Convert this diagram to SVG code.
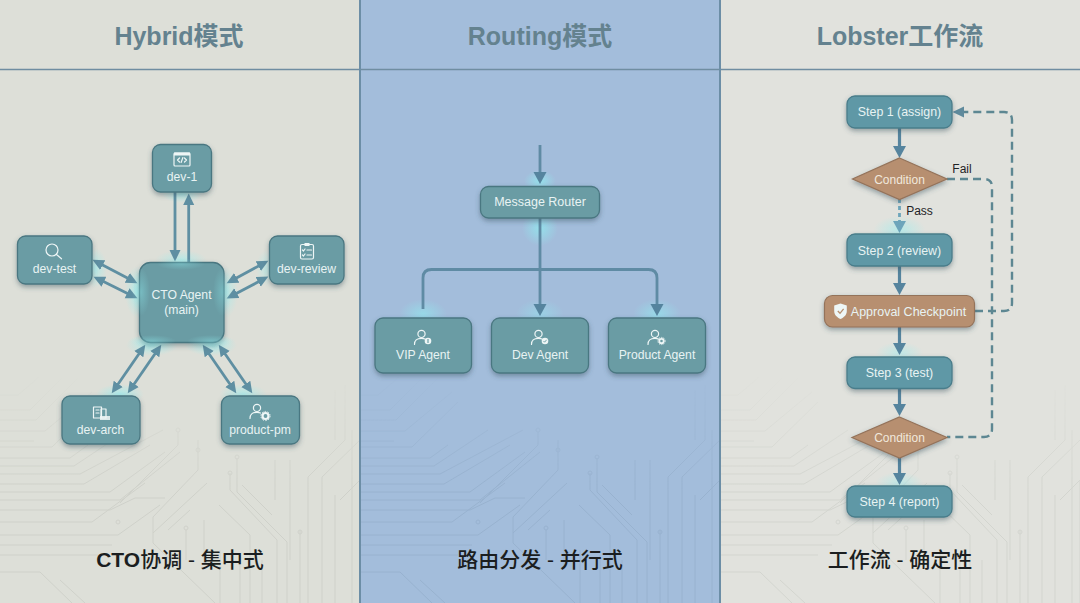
<svg xmlns="http://www.w3.org/2000/svg" xmlns:xlink="http://www.w3.org/1999/xlink" width="1080" height="603" viewBox="0 0 1080 603">
<style>
text{font-family:"Liberation Sans","Noto Sans CJK SC",sans-serif;text-anchor:middle;dominant-baseline:central}
.title{font-size:25px;font-weight:700;fill:#64828f}
.sub{font-size:21px;font-weight:700;fill:#1b1e20}
.sub tspan{font-weight:500}
.n{fill:#6a9ca4;stroke:#4a7781;stroke-width:1.3;filter:url(#sh)}
.s{fill:#5f98a6;stroke:#4a7d8b;stroke-width:1.3;filter:url(#sh)}
.b{fill:#b78f70;stroke:#94735a;stroke-width:1.2;filter:url(#sh)}
.t{font-size:12.2px;fill:#e8f3f3}
.t2{font-size:12.4px;fill:#e8f3f3}
.c{font-size:12px;fill:#f1e8dc}
.l{font-size:12px;fill:#1f2326}
.ic{fill:none;stroke:#eef6f6;stroke-width:1.2;stroke-linecap:round;stroke-linejoin:round}
.if{fill:#eef6f6;stroke:none}
.a1{fill:none;stroke:#5f8fa2;stroke-width:2.8;marker-start:url(#h1);marker-end:url(#h1)}
.a2{fill:none;stroke:#5f8fa2;stroke-width:2.8;marker-end:url(#h1)}
.a3{fill:none;stroke:#55849e;stroke-width:3.2;marker-end:url(#h4)}
.a4{fill:none;stroke:#5f8ba4;stroke-width:2.8;marker-end:url(#h4)}
.d{fill:none;stroke:#5d8792;stroke-width:2.4;stroke-dasharray:8 5}
.tr path{fill:none}
.tr circle{fill:none}
</style>
<defs>
<marker id="h1" markerUnits="userSpaceOnUse" markerWidth="13" markerHeight="13" refX="5" refY="6" orient="auto-start-reverse"><path d="M0 0.5L11.500 6L0 11.500z" fill="#5f8fa2"/></marker>
<marker id="h4" markerUnits="userSpaceOnUse" markerWidth="15" markerHeight="15" refX="5" refY="7" orient="auto"><path d="M0 0.500L12 7L0 13.500z" fill="#55849e"/></marker>
<marker id="h2" markerUnits="userSpaceOnUse" markerWidth="13" markerHeight="13" refX="5" refY="6" orient="auto"><path d="M0 0.500L11.500 6L0 11.500z" fill="#5f8a9c"/></marker>
<marker id="h3" markerUnits="userSpaceOnUse" markerWidth="15" markerHeight="15" refX="5" refY="7" orient="auto"><path d="M0 0.500L12 7L0 13.500z" fill="#6da5bb"/></marker>
<radialGradient id="glow"><stop offset="0" stop-color="#8ef0f2" stop-opacity=".9"/><stop offset="1" stop-color="#8ef0f2" stop-opacity="0"/></radialGradient>
<filter id="sh" x="-20%" y="-20%" width="140%" height="150%"><feDropShadow dx="0" dy="2.500" stdDeviation="2.500" flood-color="#33505a" flood-opacity=".45"/></filter>
<clipPath id="cp"><rect width="360" height="603"/></clipPath>
<linearGradient id="fade" gradientUnits="userSpaceOnUse" x1="0" y1="375" x2="0" y2="490"><stop offset="0" stop-color="#fff" stop-opacity="0"/><stop offset="1" stop-color="#fff"/></linearGradient>
<mask id="mk" maskUnits="userSpaceOnUse" x="0" y="0" width="360" height="603"><rect width="360" height="603" fill="url(#fade)"/></mask>
<g id="traces" class="tr" clip-path="url(#cp)" mask="url(#mk)">
<path d="M0 395H18L45 372M0 410H30L62 378M0 420H36L78 378M0 431H45L92 392M0 441H34M0 447H52L98 402"/>
<path d="M0 458H70L88 445M0 466H74L128 430M0 474H80L163 430M0 484H84L150 445M0 492H110L165 452"/>
<path d="M0 500H120L180 452M0 510H110L135 498H165M0 522H92L145 483M0 535H118L160 505M0 545H112M0 555H98M0 572H40L72 603M60 580L85 603"/>
<path d="M178 432V445L120 503M198 440V470L153 517V543L215 603M153 533L207 483M168 530L190 510M186 530V560M204 520V565M220 550V603"/>
<path d="M230 473V490L277 540V603M237 458V492L287 542V603M242 485L272 515M219 505L250 535V603M240 555V603M262 560V603"/>
<path d="M275 460V500M290 460V560M300 530V603M308 477V603M322 477V603M322 477L360 440M308 477L345 440V385M335 390V440M340 500L360 480V603M335 495V603M352 430V603"/>
<circle cx="178" cy="430" r="2"/><circle cx="198" cy="450" r="2"/><circle cx="118" cy="522" r="2"/><circle cx="186" cy="528" r="2"/><circle cx="237" cy="457" r="2"/><circle cx="230" cy="473" r="2"/><circle cx="300" cy="532" r="2"/>
</g>
<g id="person" class="ic"><circle cx="0" cy="-3.600" r="3.600"/><path d="M-7 7C-7 2-4 .8 0 .8C1.500 .8 2.600 1 3.500 1.500"/></g>
</defs>

<g id="background">
<rect width="360" height="603" fill="#dddfd8"/>
<rect x="360" width="360" height="603" fill="#a3bddb"/>
<rect x="720" width="360" height="603" fill="#e1e2dd"/>
<use href="#traces" stroke="#cfd1ca" stroke-width="1"/>
<use href="#traces" x="360" stroke="#98b2cf" stroke-width="1"/>
<use href="#traces" x="720" stroke="#d3d5cf" stroke-width="1"/>
<path d="M0 69.500H1080" stroke="#6f8da1" stroke-width="1.600"/>
<path d="M360 0V603M720 0V603" stroke="#6c8ea6" stroke-width="2"/>
</g>

<g id="headings">
<text class="title" x="179" y="36">Hybrid模式</text>
<text class="title" x="540" y="36">Routing模式</text>
<text class="title" x="900" y="36">Lobster工作流</text>
<text class="sub" x="180" y="559">CTO<tspan>协调 - 集中式</tspan></text>
<text class="sub" x="540" y="559"><tspan>路由分发 - 并行式</tspan></text>
<text class="sub" x="900" y="559"><tspan>工作流 - 确定性</tspan></text>
</g>

<g id="glows">
<ellipse cx="182" cy="194" rx="20" ry="9" fill="url(#glow)" opacity=".6"/>
<ellipse cx="95" cy="268" rx="12" ry="20" fill="url(#glow)" opacity=".6"/>
<ellipse cx="266" cy="268" rx="10" ry="18" fill="url(#glow)" opacity=".4"/>
<ellipse cx="120" cy="394" rx="24" ry="10" fill="url(#glow)" opacity=".7"/>
<ellipse cx="243" cy="394" rx="24" ry="10" fill="url(#glow)" opacity=".6"/>
<ellipse cx="181" cy="260" rx="26" ry="10" fill="url(#glow)" opacity=".55"/>
<ellipse cx="137" cy="292" rx="12" ry="26" fill="url(#glow)" opacity=".65"/>
<ellipse cx="226" cy="292" rx="12" ry="26" fill="url(#glow)" opacity=".55"/>
<ellipse cx="152" cy="345" rx="26" ry="11" fill="url(#glow)" opacity=".7"/>
<ellipse cx="211" cy="345" rx="26" ry="11" fill="url(#glow)" opacity=".7"/>
<ellipse cx="540" cy="181" rx="16" ry="11" fill="url(#glow)" opacity=".75"/>
<ellipse cx="540" cy="228" rx="18" ry="18" fill="url(#glow)" opacity=".75"/>
<ellipse cx="423" cy="314" rx="24" ry="15" fill="url(#glow)" opacity=".6"/>
<ellipse cx="540" cy="314" rx="24" ry="15" fill="url(#glow)" opacity=".45"/>
<ellipse cx="657" cy="314" rx="24" ry="15" fill="url(#glow)" opacity=".6"/>
<ellipse cx="899.500" cy="230" rx="26" ry="14" fill="url(#glow)" opacity=".55"/>
<ellipse cx="899.500" cy="353" rx="24" ry="11" fill="url(#glow)" opacity=".45"/>
<ellipse cx="899.500" cy="483" rx="24" ry="11" fill="url(#glow)" opacity=".45"/>
</g>

<g id="connectors">
<path class="a2" d="M175 192V255"/>
<path class="a2" d="M188.700 262V200"/>
<path class="a1" d="M98.300 262.800L131.700 280.200"/>
<path class="a1" d="M99.400 279.600L131.600 295.400"/>
<path class="a1" d="M262.700 263.800L232.300 280.200"/>
<path class="a1" d="M262.600 279.600L232.400 295.400"/>
<path class="a1" d="M141.600 350L115.400 388"/>
<path class="a1" d="M157.600 350L131.400 388"/>
<path class="a1" d="M206.400 350L232.600 388"/>
<path class="a1" d="M222.400 350L248.600 388"/>
<path class="a4" d="M540 145V177"/>
<path class="a4" d="M540 218V309"/>
<path class="a4" d="M423 309V278Q423 269.500 431.500 269.500H648.500Q657 269.500 657 278V309"/>
<path class="a3" d="M899.500 128V151"/>
<path d="M899.500 199V226" fill="none" stroke="#6da5bb" stroke-width="2.800" stroke-dasharray="4 3" marker-end="url(#h3)"/>
<path class="a3" d="M899.500 266V288"/>
<path class="a3" d="M899.500 327V348"/>
<path class="a3" d="M899.500 388V409"/>
<path class="a3" d="M899.500 458V478"/>
<path class="d" d="M947 179H984Q992 179 992 187V429Q992 437 984 437H947"/>
<path class="d" d="M975 311H1004Q1012 311 1012 303V120Q1012 112 1004 112H959" marker-end="url(#h2)"/>
</g>

<g id="dev-1"><rect class="n" x="152.500" y="144.500" width="59" height="47.500" rx="8"/>
<rect class="ic" x="174" y="153" width="16" height="13" rx="1"/><rect class="if" x="174" y="152.500" width="16" height="3"/><path class="ic" stroke-width=".9" d="M179.500 158L177.500 160L179.500 162M184.500 158L186.500 160L184.500 162M182.900 157.500L181.100 162.500"/>
<text class="t" x="182" y="177">dev-1</text></g>

<g id="dev-test"><rect class="n" x="17.500" y="236" width="74.500" height="48" rx="8"/>
<circle class="ic" cx="52" cy="250" r="6"/><path class="ic" stroke-width="1.700" d="M56.500 254.500L61.500 258.800"/>
<text class="t" x="54.500" y="269">dev-test</text></g>

<g id="dev-review"><rect class="n" x="269.500" y="236" width="74.500" height="48" rx="8"/>
<rect class="ic" x="300.500" y="244.500" width="13" height="14.500" rx="1.500"/><rect class="if" x="304.500" y="243" width="5" height="3"/><path class="ic" stroke-width=".9" d="M302.500 250L303.500 251L305 249M307 250H311.500M302.500 255L303.500 256L305 254M307 255H311.500"/>
<text class="t" x="306.500" y="269">dev-review</text></g>

<g id="cto-agent"><rect class="n" x="139.500" y="262.500" width="84.500" height="80" rx="11"/>
<ellipse cx="181" cy="264" rx="24" ry="6" fill="url(#glow)" opacity=".35"/><ellipse cx="141" cy="292" rx="9" ry="24" fill="url(#glow)" opacity=".4"/><ellipse cx="222" cy="292" rx="9" ry="24" fill="url(#glow)" opacity=".35"/><ellipse cx="152" cy="341" rx="24" ry="6" fill="url(#glow)" opacity=".4"/><ellipse cx="211" cy="341" rx="24" ry="6" fill="url(#glow)" opacity=".4"/>
<text class="t" x="181.500" y="295">CTO Agent</text><text class="t" x="181.500" y="310">(main)</text></g>

<g id="dev-arch"><rect class="n" x="62" y="396" width="78" height="48" rx="8"/>
<rect class="ic" x="93.500" y="407" width="8" height="11" stroke-width="1"/><rect class="ic" x="101" y="409" width="5" height="9" stroke-width="1"/><rect class="if" x="100" y="416" width="10" height="4" opacity=".85"/><path class="ic" stroke-width=".9" d="M96 410H99M96 413H99"/>
<text class="t" x="100.500" y="430">dev-arch</text></g>

<g id="product-pm"><rect class="n" x="221.500" y="396" width="78" height="48" rx="8"/>
<use href="#person" x="257" y="411.500"/><circle cx="265.500" cy="416" r="3" fill="none" stroke="#eef6f6" stroke-width="2.200"/><circle cx="265.500" cy="416" r="4.600" fill="none" stroke="#eef6f6" stroke-width="1" stroke-dasharray="1.500 1.400"/>
<text class="t" x="260" y="430">product-pm</text></g>

<g id="message-router"><rect class="n" x="480.500" y="186.500" width="119" height="31.500" rx="8"/>
<text class="t" style="font-size:12.500px" x="540" y="202">Message Router</text></g>

<g id="vip-agent"><rect class="n" x="375" y="318" width="96.500" height="55" rx="8"/>
<use href="#person" x="421.500" y="337.500"/><circle class="if" cx="428" cy="341" r="3.300"/><rect x="427.400" y="339" width="1.200" height="4" fill="#6b9ea6"/>
<text class="t" x="423" y="355">VIP Agent</text></g>

<g id="dev-agent"><rect class="n" x="491.500" y="318" width="97" height="55" rx="8"/>
<use href="#person" x="538.500" y="337.500"/><circle class="if" cx="545" cy="341" r="3.300"/><path d="M543.500 341L544.600 342.200L546.600 339.800" fill="none" stroke="#6b9ea6" stroke-width=".9"/>
<text class="t" x="540" y="355">Dev Agent</text></g>

<g id="product-agent"><rect class="n" x="608.500" y="318" width="97" height="55" rx="8"/>
<use href="#person" x="655" y="337.500"/><circle cx="661.500" cy="341" r="2.200" fill="none" stroke="#eef6f6" stroke-width="1.800"/><circle cx="661.500" cy="341" r="3.600" fill="none" stroke="#eef6f6" stroke-width="1" stroke-dasharray="1.300 1"/>
<text class="t" x="657" y="355">Product Agent</text></g>

<g id="step-1"><rect class="s" x="847" y="96" width="105" height="32" rx="8"/><text class="t2" x="899.500" y="112">Step 1 (assign)</text></g>
<g id="condition-1"><path class="b" d="M899.500 158L947 179L899.500 199.500L852.500 179z"/><text class="c" x="899.500" y="179.500">Condition</text></g>
<g id="step-2"><rect class="s" x="847" y="234" width="105" height="32" rx="8"/><text class="t2" x="899.500" y="250.500">Step 2 (review)</text></g>
<g id="approval"><rect class="b" x="824.500" y="295.500" width="150" height="31.500" rx="8"/>
<path class="if" d="M840.500 303.500L846.800 305.500V311C846.800 315 843.800 317.500 840.500 319C837.200 317.500 834.200 315 834.200 311V305.500z"/><path d="M837.800 311L840 313.300L843.600 308.800" fill="none" stroke="#b78f70" stroke-width="1.300"/>
<text class="t" style="font-size:12.500px" x="908.500" y="311.500">Approval Checkpoint</text></g>
<g id="step-3"><rect class="s" x="847" y="357" width="105" height="31.500" rx="8"/><text class="t2" x="899.500" y="372.500">Step 3 (test)</text></g>
<g id="condition-2"><path class="b" d="M899.500 417L947 437.500L899.500 458L852 437.500z"/><text class="c" x="899.500" y="437.500">Condition</text></g>
<g id="step-4"><rect class="s" x="847" y="486" width="105" height="31" rx="8"/><text class="t2" x="899.500" y="501.500">Step 4 (report)</text></g>

<g id="labels">
<text class="l" x="962" y="168.500">Fail</text>
<text class="l" x="919.500" y="211">Pass</text>
</g>
</svg>
